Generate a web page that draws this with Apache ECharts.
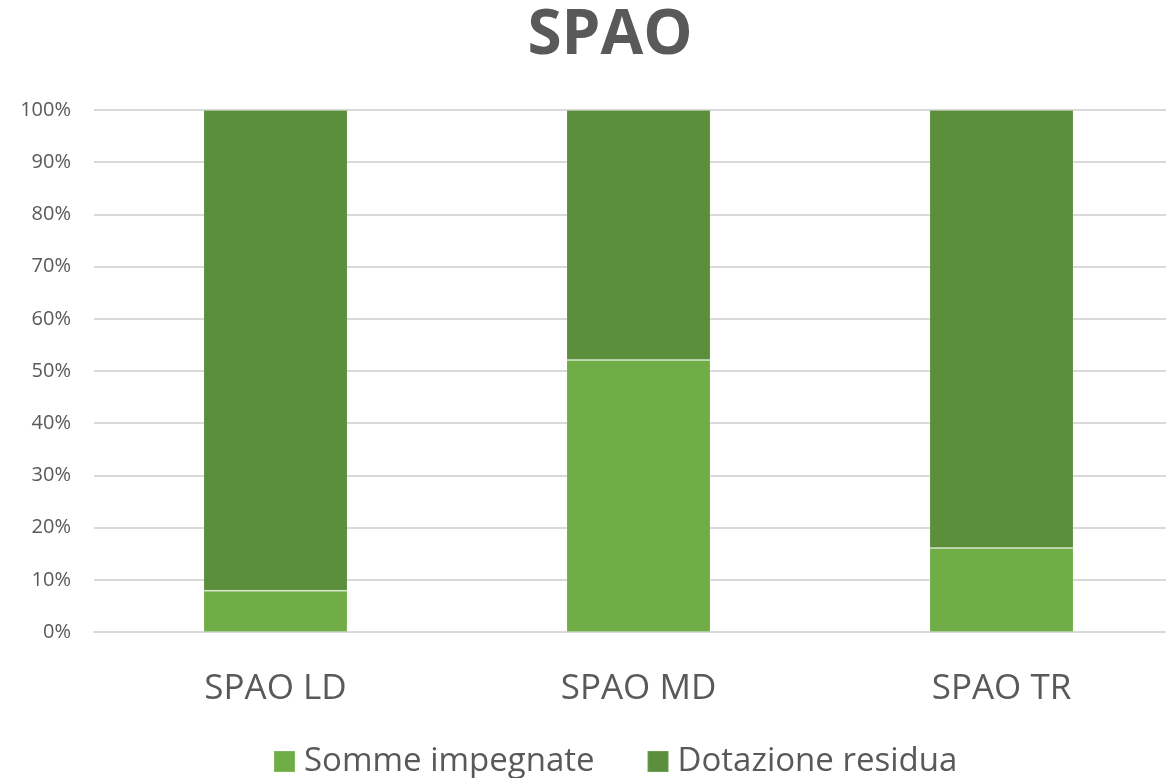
<!DOCTYPE html>
<html>
	<head>
		<meta charset="utf-8">
		<title>SPAO</title>
		<script src="https://cdn.jsdelivr.net/npm/echarts@6/dist/echarts.min.js"></script>
		<style>
			html, body { margin: 0; padding: 0; background: #fff; overflow: hidden; }
		</style>
	</head>
	<body>
		<!-- the plot area runs past the right edge of the window, as in the original -->
		<div id="my" style="width: 1183px;height: 778px;"></div>

		<script>
			var categories = ['SPAO LD', 'SPAO MD', 'SPAO TR'];
			var sommeImpegnate = [7.9, 52.1, 16.1];
			var dotazioneResidua = [92.1, 47.9, 83.9];

			var myChart = echarts.init(document.getElementById('my'));

			var option = {
				textStyle: { fontFamily: 'Open Sans' },
				title: {
					text: 'SPAO',
					left: 605,
					textAlign: 'center',
					top: 0,
					textStyle: {
						color: '#595959',
						fontSize: 62,
						fontWeight: 'bold',
						fontFamily: 'Open Sans'
					}
				},
				legend: {
					data: ['Somme impegnate', 'Dotazione residua'],
					left: 268,
					top: 740,
					icon: 'rect',
					itemWidth: 21,
					itemHeight: 21,
					itemGap: 52,
					textStyle: {
						color: '#595959',
						fontSize: 33,
						fontFamily: 'Open Sans',
						padding: [0, 0, 0, 4]
					}
				},
				grid: {
					left: 94,
					right: 0,
					top: 110,
					bottom: 146
				},
				xAxis: {
					type: 'category',
					data: categories,
					axisLine: { lineStyle: { color: '#D9D9D9', width: 2 } },
					axisTick: { show: false },
					axisLabel: {
						color: '#595959',
						fontSize: 35,
						margin: 40
					}
				},
				yAxis: {
					type: 'value',
					min: 0,
					max: 100,
					interval: 10,
					axisLine: { show: false },
					axisTick: { show: false },
					splitLine: { lineStyle: { color: '#D9D9D9', width: 2 } },
					axisLabel: {
						formatter: '{value}%',
						color: '#595959',
						fontSize: 20,
						margin: 23
					}
				},
				series: [
					{
						name: 'Somme impegnate',
						type: 'bar',
						stack: 'tot',
						barWidth: 144,
						data: sommeImpegnate,
						itemStyle: {
							color: '#70AD47',
							borderColor: 'rgba(255,255,255,0.12)',
							borderWidth: 1
						}
					},
					{
						name: 'Dotazione residua',
						type: 'bar',
						stack: 'tot',
						barWidth: 144,
						data: dotazioneResidua,
						itemStyle: {
							color: '#5B8F3B',
							borderColor: 'rgba(255,255,255,0.12)',
							borderWidth: 1
						}
					}
				]
			};

			myChart.setOption(option);
		</script>
	</body>
</html>
